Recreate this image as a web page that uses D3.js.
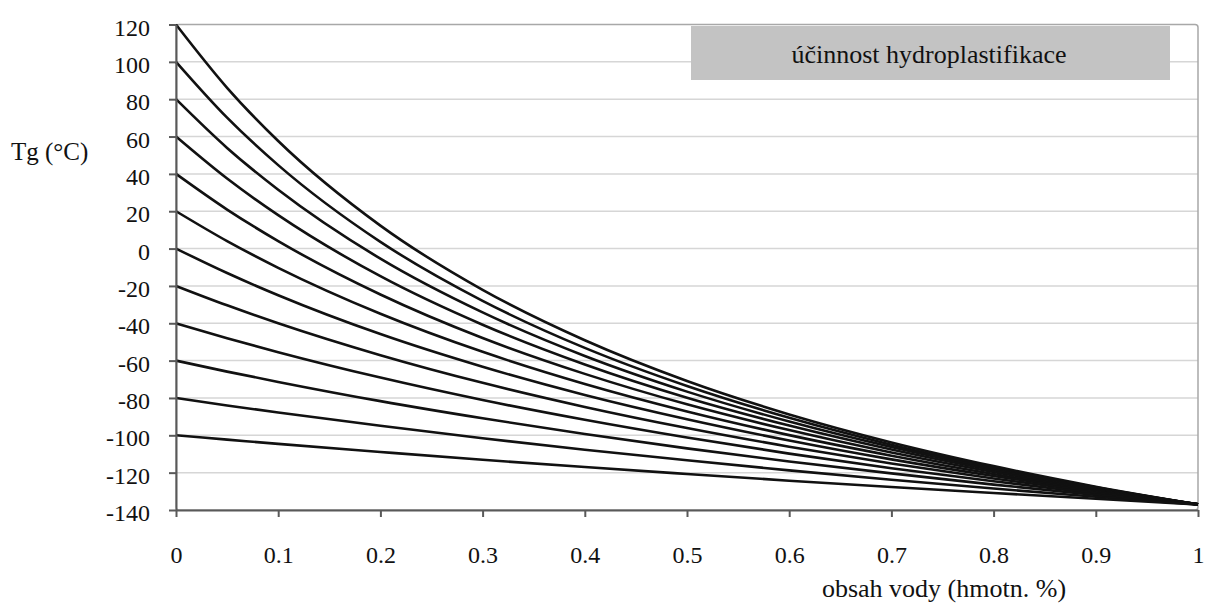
<!DOCTYPE html>
<html>
<head>
<meta charset="utf-8">
<script src="https://cdn.jsdelivr.net/npm/d3@7"></script>
<style>
  html, body { margin: 0; padding: 0; background: #fff; }
  svg { display: block; }
  text { font-family: "Liberation Serif", "Times New Roman", serif; fill: #111; }
</style>
</head>
<body>
<svg id="chart" width="1205" height="605"></svg>
<script>
// Water content (mass fraction) at which each curve is sampled
const waterFraction = [0, 0.05, 0.1, 0.2, 0.3, 0.4, 0.5, 0.6, 0.7, 0.8, 0.9, 1];

// Glass transition temperature (°C) of each polymer/water blend, one array per dry-polymer Tg
const tg120  = [120, 86.1, 57.6, 12.3, -22.1, -49.1, -70.9, -88.8, -103.8, -116.5, -127.5, -137];
const tg100  = [100, 70.1, 44.7, 3.6, -28.0, -53.2, -73.6, -90.6, -105.0, -117.2, -127.8, -137];
const tg80   = [80, 53.9, 31.5, -5.4, -34.2, -57.5, -76.6, -92.6, -106.2, -117.9, -128.1, -137];
const tg60   = [60, 37.5, 17.9, -14.8, -40.8, -62.1, -79.9, -94.8, -107.6, -118.7, -128.4, -137];
const tg40   = [40, 20.9, 4.0, -24.6, -47.9, -67.1, -83.4, -97.2, -109.2, -119.6, -128.8, -137];
const tg20   = [20, 4.0, -10.3, -34.9, -55.3, -72.5, -87.2, -99.9, -110.9, -120.7, -129.3, -137];
const tg0    = [0, -13.1, -25.0, -45.8, -63.3, -78.4, -91.4, -102.8, -112.9, -121.8, -129.8, -137];
const tgM20  = [-20, -30.4, -40.0, -57.1, -71.9, -84.8, -96.1, -106.1, -115.1, -123.1, -130.4, -137];
const tgM40  = [-40, -48.0, -55.5, -69.1, -81.1, -91.7, -101.2, -109.8, -117.6, -124.6, -131.1, -137];
const tgM60  = [-60, -65.9, -71.4, -81.7, -90.9, -99.3, -107.0, -114.0, -120.4, -126.4, -131.9, -137];
const tgM80  = [-80, -84.0, -87.8, -94.9, -101.6, -107.7, -113.4, -118.8, -123.8, -128.5, -132.9, -137];
const tgM100 = [-100, -102.3, -104.6, -108.9, -113.1, -117.0, -120.7, -124.3, -127.7, -130.9, -134.0, -137];

const xTicks = [0, 0.1, 0.2, 0.3, 0.4, 0.5, 0.6, 0.7, 0.8, 0.9, 1];
const xTickLabels = ["0", "0.1", "0.2", "0.3", "0.4", "0.5", "0.6", "0.7", "0.8", "0.9", "1"];
const yTicks = [-140, -120, -100, -80, -60, -40, -20, 0, 20, 40, 60, 80, 100, 120];
const yTickLabels = ["-140", "-120", "-100", "-80", "-60", "-40", "-20", "0", "20", "40", "60", "80", "100", "120"];

const yAxisTitle = "Tg (°C)";
const xAxisTitle = "obsah vody (hmotn. %)";
const boxTitle = "účinnost hydroplastifikace";

const series = [tg120, tg100, tg80, tg60, tg40, tg20, tg0, tgM20, tgM40, tgM60, tgM80, tgM100];

const svg = d3.select("#chart");
const plot = { left: 176, right: 1198, top: 24.5, bottom: 510 };

const x = d3.scaleLinear().domain([0, 1]).range([plot.left, plot.right]);
const y = d3.scaleLinear().domain([-140, 120]).range([plot.bottom, plot.top]);

// horizontal gridlines
svg.append("g")
  .selectAll("line")
  .data(yTicks.filter(d => d !== -140 && d !== 120))
  .join("line")
  .attr("x1", plot.left).attr("x2", plot.right)
  .attr("y1", d => y(d)).attr("y2", d => y(d))
  .attr("stroke", "#d6d6d6")
  .attr("stroke-width", 1.5);

// plot-area frame
svg.append("rect")
  .attr("x", plot.left).attr("y", plot.top)
  .attr("width", plot.right - plot.left)
  .attr("height", plot.bottom - plot.top)
  .attr("rx", 3)
  .attr("fill", "none")
  .attr("stroke", "#a8a8a8")
  .attr("stroke-width", 1.5);

// label box
svg.append("rect")
  .attr("x", 691).attr("y", 26)
  .attr("width", 479).attr("height", 54)
  .attr("fill", "#c3c3c3");
svg.append("text")
  .attr("x", 929).attr("y", 63)
  .attr("text-anchor", "middle")
  .style("font-size", "26px")
  .text(boxTitle);

// curves
const line = d3.line()
  .x((d, i) => x(waterFraction[i]))
  .y(d => y(d))
  .curve(d3.curveMonotoneX);

svg.append("g")
  .selectAll("path")
  .data(series)
  .join("path")
  .attr("d", line)
  .attr("fill", "none")
  .attr("stroke", "#111")
  .attr("stroke-width", 2.6)
  .attr("stroke-linejoin", "round");

// axes
const yAxis = svg.append("g")
  .attr("transform", `translate(${plot.left},0)`)
  .call(d3.axisLeft(y).tickValues(yTicks).tickFormat((d, i) => yTickLabels[i])
    .tickSize(7).tickPadding(19).tickSizeOuter(0));
yAxis.select(".domain").attr("stroke", "#595959").attr("stroke-width", 2);
yAxis.selectAll(".tick line").attr("stroke", "#595959").attr("stroke-width", 2);
yAxis.selectAll("text")
  .attr("dy", 10.5)
  .style("font-size", "24px")
  .style("font-family", '"Liberation Serif", serif')
  .attr("fill", "#111");

const xAxis = svg.append("g")
  .attr("transform", `translate(0,${plot.bottom})`)
  .call(d3.axisBottom(x).tickValues(xTicks).tickFormat((d, i) => xTickLabels[i])
    .tickSize(7).tickSizeOuter(0));
xAxis.select(".domain").attr("stroke", "#595959").attr("stroke-width", 2);
xAxis.selectAll(".tick line").attr("stroke", "#595959").attr("stroke-width", 2);
xAxis.selectAll("text")
  .attr("y", 53).attr("dy", 0)
  .style("font-size", "24px")
  .style("font-family", '"Liberation Serif", serif')
  .attr("fill", "#111");

// axis titles
svg.append("text")
  .attr("x", 11).attr("y", 160)
  .style("font-size", "25px")
  .text(yAxisTitle);

svg.append("text")
  .attr("x", 944).attr("y", 597)
  .attr("text-anchor", "middle")
  .style("font-size", "26px")
  .text(xAxisTitle);
</script>
</body>
</html>
